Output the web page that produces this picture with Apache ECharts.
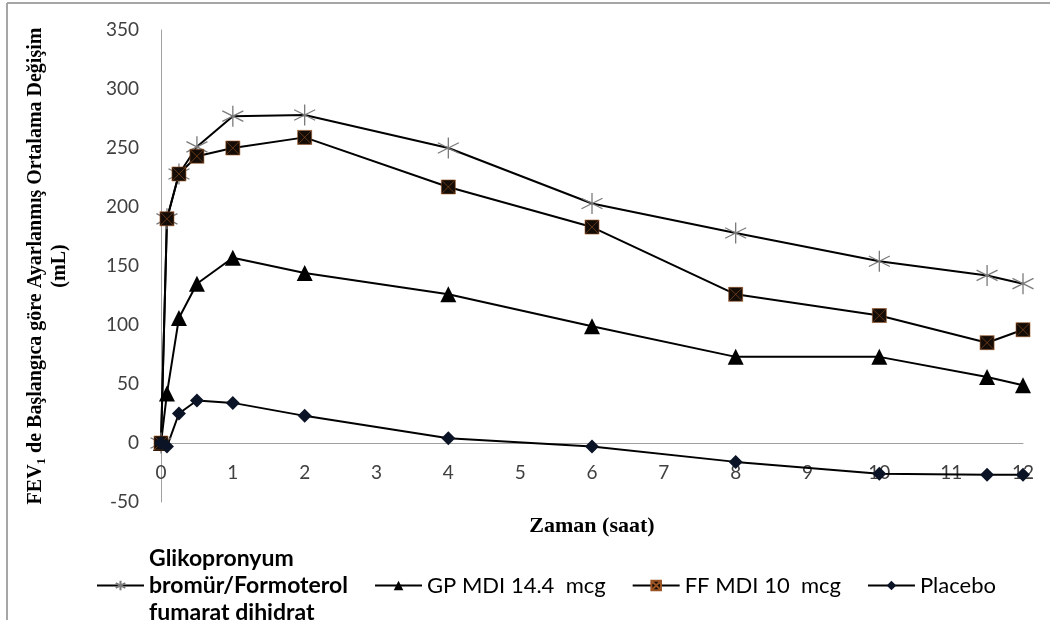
<!DOCTYPE html>
<html>
<head>
<meta charset="utf-8">
<script src="https://cdn.jsdelivr.net/npm/echarts@6/dist/echarts.min.js"></script>
<style>html,body{margin:0;padding:0;background:#fff;}#c{width:1050px;height:620px;}</style>
</head>
<body>
<div id="c"></div>
<script>
// Time points (hours)
const times = [0, 0.083, 0.25, 0.5, 1, 2, 4, 6, 8, 10, 11.5, 12];
// Series values (mL)
const gffValues = [0, 190, 228, 251, 277, 278, 250, 203, 178, 154, 142, 135];
const gpValues = [0, 42, 106, 135, 157, 144, 126, 99, 73, 73, 56, 49];
const ffValues = [0, 190, 228, 243, 250, 259, 217, 183, 126, 108, 85, 96];
const placeboValues = [0, -3, 25, 36, 34, 23, 4, -3, -16, -26, -27, -27];
// Names
const seriesNames = ['Glikopronyum\nbromür/Formoterol\nfumarat dihidrat', 'GP MDI 14.4  mcg', 'FF MDI 10  mcg', 'Placebo'];
const xTicks = [0, 1, 2, 3, 4, 5, 6, 7, 8, 9, 10, 11, 12];
const yTicks = [-50, 0, 50, 100, 150, 200, 250, 300, 350];

function pairs(vals) { return times.map((t, i) => [t, vals[i]]); }

const chart = echarts.init(document.getElementById('c'), null, {renderer: 'canvas'});
const labelFont = 'Lato, "Open Sans", sans-serif';
const serif = '"Liberation Serif", "Times New Roman", serif';
const lineBase = {type: 'line', lineStyle: {color: '#000', width: 2}, z: 3};

chart.setOption({
  animation: false,
  backgroundColor: '#fff',
  grid: {left: 161, right: 27, top: 30, bottom: 118, containLabel: false},
  xAxis: {
    type: 'value', min: xTicks[0], max: xTicks[xTicks.length - 1], interval: 1,
    offset: -59,
    axisLine: {show: true, onZero: false, lineStyle: {color: '#a0a0a0', width: 1}},
    axisTick: {show: false},
    splitLine: {show: false},
    axisLabel: {color: '#404040', fontFamily: labelFont, fontSize: 19, margin: 20},
    name: 'Zaman (saat)', nameLocation: 'middle', nameGap: 72,
    nameTextStyle: {fontFamily: serif, fontWeight: 'bold', fontSize: 22, color: '#000'}
  },
  yAxis: {
    type: 'value', min: yTicks[0], max: yTicks[yTicks.length - 1], interval: 50,
    axisLine: {show: true, lineStyle: {color: '#a0a0a0', width: 1}},
    axisTick: {show: false},
    splitLine: {show: false},
    axisLabel: {color: '#404040', fontFamily: labelFont, fontSize: 19, margin: 22},
    name: '{b|FEV}{s|1}{b| de Başlangıca göre Ayarlanmış Ortalama Değişim}\n{b|(mL)}',
    nameLocation: 'middle', nameGap: 89,
    nameTextStyle: {
      align: 'center',
      rich: {
        b: {fontFamily: serif, fontWeight: 'bold', fontSize: 20, color: '#000', lineHeight: 24, verticalAlign: 'middle'},
        s: {fontFamily: serif, fontWeight: 'bold', fontSize: 13, color: '#000', lineHeight: 24, verticalAlign: 'bottom', padding: [8, 0, 0, 0]}
      }
    }
  },
  legend: {
    left: 91, top: 540, itemWidth: 47, itemHeight: 12, itemGap: 26,
    textStyle: {fontFamily: labelFont, fontSize: 22, color: '#000', lineHeight: 27},
    data: [
      {name: seriesNames[0], textStyle: {fontWeight: 'bold', fontSize: 23}},
      {name: seriesNames[1]},
      {name: seriesNames[2]},
      {name: seriesNames[3]}
    ]
  },
  graphic: [
    {type: 'line', shape: {x1: 7, y1: 3, x2: 1050, y2: 3}, style: {stroke: '#a6a6a6', lineWidth: 2}},
    {type: 'line', shape: {x1: 7, y1: 3, x2: 7, y2: 620}, style: {stroke: '#a6a6a6', lineWidth: 2}}
  ],
  series: [
    Object.assign({}, lineBase, {
      name: seriesNames[0], data: pairs(gffValues),
      symbol: 'path://M0,-10L0,10M-8.66,-5L8.66,5M-8.66,5L8.66,-5', symbolSize: 21,
      itemStyle: {color: 'rgba(0,0,0,0)', borderColor: '#7a7a7a', borderWidth: 1.3}
    }),
    Object.assign({}, lineBase, {
      name: seriesNames[1], data: pairs(gpValues),
      symbol: 'triangle', symbolSize: 16,
      itemStyle: {color: '#000', borderColor: '#000', borderWidth: 0}
    }),
    Object.assign({}, lineBase, {
      name: seriesNames[2], data: pairs(ffValues),
      symbol: 'path://M0,0L10,0L10,10L0,10ZM0,0L10,10M10,0L0,10', symbolSize: 14,
      itemStyle: {color: '#140c06', borderColor: '#9a5424', borderWidth: 0.6}
    }),
    Object.assign({}, lineBase, {
      name: seriesNames[3], data: pairs(placeboValues),
      symbol: 'diamond', symbolSize: 14,
      itemStyle: {color: '#0b1426', borderColor: '#0b1426', borderWidth: 0}
    })
  ]
});
</script>
</body>
</html>
